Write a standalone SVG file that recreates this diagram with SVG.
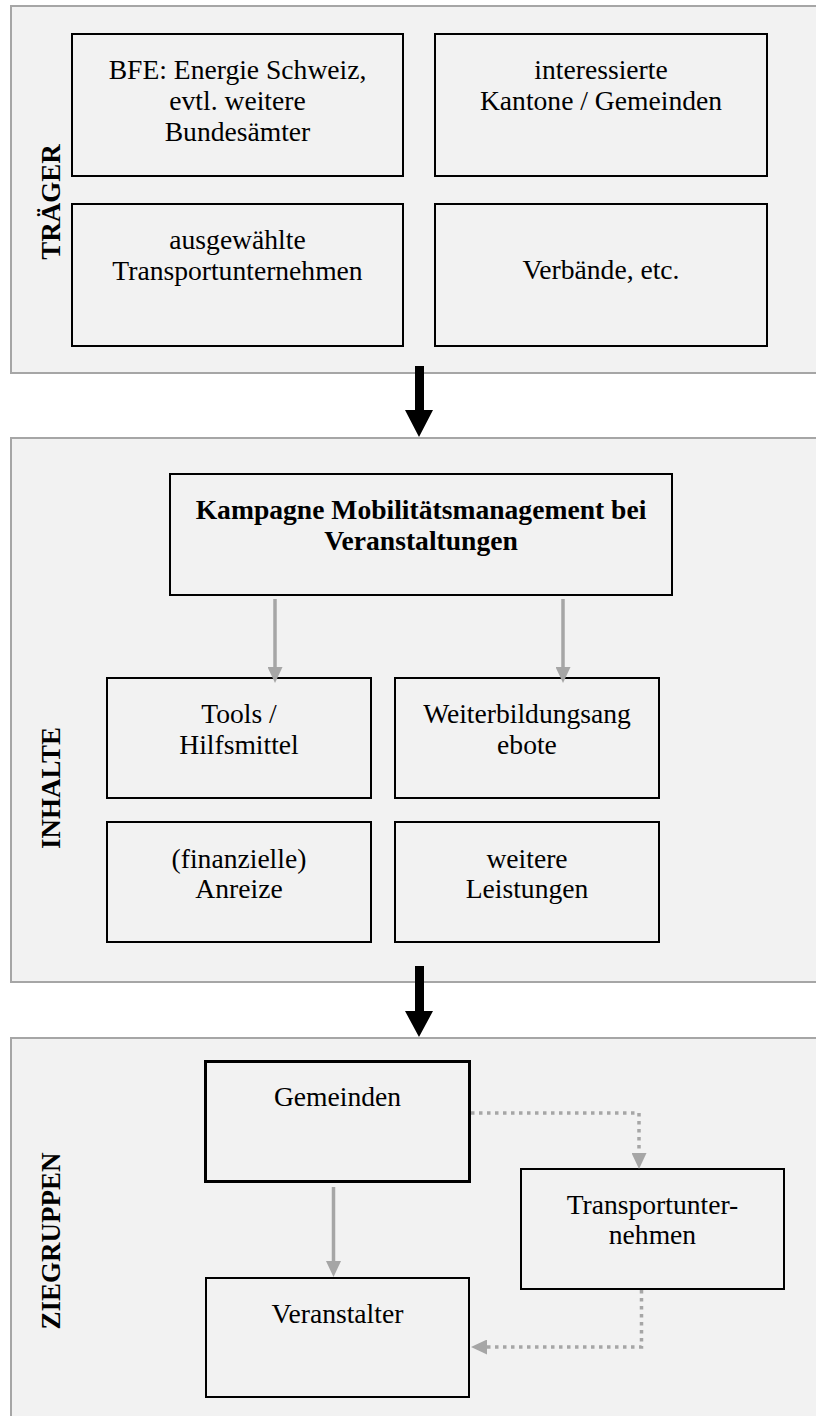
<svg xmlns="http://www.w3.org/2000/svg" width="816" height="1416" viewBox="0 0 816 1416" font-family="'Liberation Serif', 'Times New Roman', serif">
<style>
.sec{fill:#f2f2f2;stroke:#a6a6a6;stroke-width:2}
.box{fill:#f2f2f2;stroke:#000;stroke-width:2}
.boxb{fill:#f2f2f2;stroke:#000;stroke-width:3}
.txt{font-family:'Liberation Serif','Times New Roman',serif;font-size:27.6px;fill:#000;text-anchor:middle}
.bold{font-weight:bold}
.lab{font-family:'Liberation Serif','Times New Roman',serif;font-size:27px;font-weight:bold;fill:#000;text-anchor:middle}
.gl{fill:none;stroke:#a6a6a6;stroke-width:3.5}
.dot{fill:none;stroke:#a6a6a6;stroke-width:3.5;stroke-dasharray:3.5 4.5}
.big{fill:#000}
</style>
<defs>
<marker id="gh" markerUnits="userSpaceOnUse" markerWidth="16" markerHeight="15" refX="0" refY="7.5" orient="auto">
<path d="M0,0 L16,7.5 L0,15 z" fill="#a6a6a6"/>
</marker>
</defs>

<g id="sec-traeger">
<rect class="sec" x="11" y="6" width="820" height="367"/>
<text class="lab" transform="translate(60,202) rotate(-90)">TRÄGER</text>
</g>
<g id="sec-inhalte">
<rect class="sec" x="11" y="438" width="820" height="544"/>
<text class="lab" transform="translate(60,788) rotate(-90)">INHALTE</text>
</g>
<g id="sec-zielgruppen">
<rect class="sec" x="11" y="1038" width="820" height="400"/>
<text class="lab" transform="translate(60,1241) rotate(-90)">ZIEGRUPPEN</text>
</g>

<g id="n-bfe">
<rect class="box" x="72" y="34" width="331" height="142"/>
<text class="txt" x="237.5" y="79">BFE: Energie Schweiz,</text>
<text class="txt" x="237.5" y="110">evtl. weitere</text>
<text class="txt" x="237.5" y="141">Bundesämter</text>
</g>
<g id="n-kantone">
<rect class="box" x="435" y="34" width="332" height="142"/>
<text class="txt" x="601" y="79">interessierte</text>
<text class="txt" x="601" y="110">Kantone / Gemeinden</text>
</g>
<g id="n-transport1">
<rect class="box" x="72" y="204" width="331" height="142"/>
<text class="txt" x="237.5" y="249">ausgewählte</text>
<text class="txt" x="237.5" y="280">Transportunternehmen</text>
</g>
<g id="n-verbaende">
<rect class="box" x="435" y="204" width="332" height="142"/>
<text class="txt" x="601" y="279">Verbände, etc.</text>
</g>

<g id="n-kampagne">
<rect class="box" x="170" y="474" width="502" height="121"/>
<text class="txt bold" x="421" y="519">Kampagne Mobilitätsmanagement bei</text>
<text class="txt bold" x="421" y="550">Veranstaltungen</text>
</g>
<g id="n-tools">
<rect class="box" x="107" y="678" width="264" height="120"/>
<text class="txt" x="239" y="723">Tools /</text>
<text class="txt" x="239" y="754">Hilfsmittel</text>
</g>
<g id="n-weiterbildung">
<rect class="box" x="395" y="678" width="264" height="120"/>
<text class="txt" x="527" y="723">Weiterbildungsang</text>
<text class="txt" x="527" y="754">ebote</text>
</g>
<g id="n-anreize">
<rect class="box" x="107" y="822" width="264" height="120"/>
<text class="txt" x="239" y="868">(finanzielle)</text>
<text class="txt" x="239" y="898">Anreize</text>
</g>
<g id="n-leistungen">
<rect class="box" x="395" y="822" width="264" height="120"/>
<text class="txt" x="527" y="868">weitere</text>
<text class="txt" x="527" y="898">Leistungen</text>
</g>

<g id="n-gemeinden">
<rect class="boxb" x="205.5" y="1061.5" width="264" height="120"/>
<text class="txt" x="337.5" y="1106">Gemeinden</text>
</g>
<g id="n-transport2">
<rect class="box" x="521" y="1169" width="263" height="120"/>
<text class="txt" x="652.5" y="1214">Transportunter-</text>
<text class="txt" x="652.5" y="1244">nehmen</text>
</g>
<g id="n-veranstalter">
<rect class="box" x="206" y="1278" width="263" height="119"/>
<text class="txt" x="337.5" y="1323">Veranstalter</text>
</g>

<g id="connectors">
<path class="big" d="M415,366 H424 V410 H433 L419,437 L405,410 H415 Z"/>
<path class="big" d="M415,966 H424 V1011 H433 L419,1037 L405,1011 H415 Z"/>
<path class="gl" d="M275,599 V667" marker-end="url(#gh)"/>
<path class="gl" d="M563,599 V667" marker-end="url(#gh)"/>
<path class="gl" d="M333.5,1187 V1261" marker-end="url(#gh)"/>
<path class="dot" d="M471,1113 H639 V1153" marker-end="url(#gh)"/>
<path class="dot" d="M641.5,1290 V1347 H487" marker-end="url(#gh)"/>
</g>
</svg>
